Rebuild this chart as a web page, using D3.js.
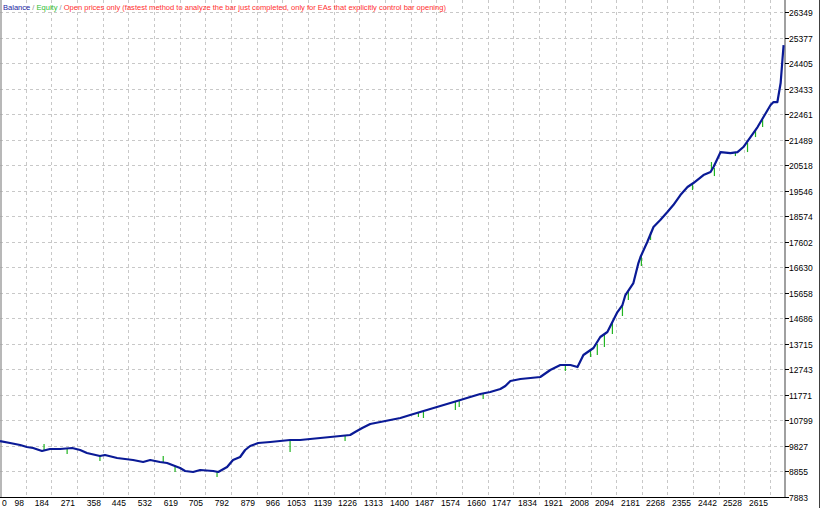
<!DOCTYPE html>
<html><head><meta charset="utf-8">
<script src="https://cdn.jsdelivr.net/npm/d3@7"></script>
<style>
body{margin:0;background:#fff}
svg{display:block}
text{font-family:"Liberation Sans",Arial,sans-serif}
</style>
</head><body>
<svg id="c" width="820" height="508"></svg>
<script>
const xTickLabels=[0,98,184,271,358,445,532,619,705,792,879,966,1053,1139,1226,1313,1400,1487,1574,1660,1747,1834,1921,2008,2094,2181,2268,2355,2442,2528,2615];
const yTickLabels=[26349,25377,24405,23433,22461,21489,20518,19546,18574,17602,16630,15658,14686,13715,12743,11771,10799,9827,8855,7883];
const titleParts=["Balance"," / ","Equity"," / ","Open prices only (fastest method to analyze the bar just completed, only for EAs that explicitly control bar opening)"];
const titleColors=["#1a1aa0","#909090","#30c030","#909090","#ff3030"];

const trades=[11,45,79,102,123,153,180,214,255,282,305,349,366,407,461,495,519,552,576,620,637,664,688,732,749,779,799,823,840,857,884,925,958,992,1026,1060,1094,1128,1162,1195,1212,1236,1263,1297,1331,1365,1398,1432,1466,1500,1534,1568,1601,1635,1669,1703,1720,1737,1771,1805,1838,1872,1906,1940,1964,1984,2018,2041,2065,2082,2099,2116,2126,2153,2170,2177,2200,2221,2244,2268,2288,2312,2336,2356,2390,2414,2424,2448,2481,2505,2525,2549,2573,2593,2617,2627,2640,2651,2657,2661];
const balance=[10015,9939,9863,9787,9748,9634,9710,9710,9748,9672,9558,9444,9482,9368,9292,9215,9292,9215,9177,8987,8873,8835,8911,8873,8835,9025,9292,9406,9672,9825,9939,9977,10015,10053,10053,10091,10129,10167,10205,10243,10358,10510,10662,10738,10814,10891,11005,11119,11233,11347,11462,11576,11690,11804,11880,11995,12109,12299,12375,12413,12451,12718,12908,12908,12832,13289,13555,13974,14165,14545,14926,15192,15573,16030,16791,17020,17591,18162,18428,18733,18999,19380,19685,19837,20142,20256,20446,21017,20979,21017,21208,21588,21969,22350,22806,22921,22921,23644,24520,25091];

const dipTrades=[160,238,349,563,603,745,992,1178,1426,1443,1551,1564,1645,1923,2008,2031,2055,2082,2116,2136,2180,2211,2353,2417,2427,2498,2539,2566,2590];
const dipFrom=[9634,9710,9444,9215,9063,8873,10053,10205,11081,11157,11538,11576,11842,12870,13479,13707,14088,14507,15192,15687,17058,17972,19799,20332,20408,20979,21360,21855,22236];
const dipTo=[9901,9520,9254,9444,8835,8644,9596,10015,10929,10891,11195,11309,11614,12680,13213,13289,13594,14088,14774,15383,16677,17667,19570,20636,20103,20865,21017,21588,21969];

const svg=d3.select("#c");
const plotRight=784, plotBottom=497;
const x=d3.scaleLinear().domain([11,2615]).range([0,770]);
const y=d3.scaleLinear().domain([7883,26349]).range([497,12]);

// grid
const g=svg.append("g");
yTickLabels.slice(0,-1).forEach(v=>{
  const yy=Math.round(y(v))+0.5;
  g.append("line").attr("x1",0).attr("x2",plotRight).attr("y1",yy).attr("y2",yy)
   .attr("stroke","#c8c8c8").attr("stroke-dasharray","3,3").attr("stroke-width",1);
});
xTickLabels.slice(1).forEach(v=>{
  const xx=Math.round(x(v))+0.5;
  g.append("line").attr("x1",xx).attr("x2",xx).attr("y1",0).attr("y2",plotBottom)
   .attr("stroke","#c8c8c8").attr("stroke-dasharray","3,3").attr("stroke-width",1);
});

// frame
svg.append("line").attr("x1",1).attr("x2",1).attr("y1",0).attr("y2",plotBottom).attr("stroke","#a0a0a0").attr("stroke-width",1.5);
svg.append("line").attr("x1",785).attr("x2",785).attr("y1",0).attr("y2",plotBottom).attr("stroke","#a0a0a0").attr("stroke-width",2);
svg.append("line").attr("x1",0).attr("x2",786).attr("y1",497.5).attr("y2",497.5).attr("stroke","#000").attr("stroke-width",1);
svg.append("line").attr("x1",819.5).attr("x2",819.5).attr("y1",0).attr("y2",508).attr("stroke","#404040").attr("stroke-width",1);

// y labels
yTickLabels.forEach(v=>{
  const yy=Math.round(y(v))+0.5;
  svg.append("line").attr("x1",785).attr("x2",789).attr("y1",yy).attr("y2",yy).attr("stroke","#000");
  svg.append("text").attr("x",789).attr("y",yy+3).attr("font-size",8.5).attr("fill","#000").text(v);
});
// x labels
xTickLabels.forEach((v,i)=>{
  const t=svg.append("text").attr("y",506).attr("font-size",8.5).attr("fill","#000").text(v);
  if(i===0) t.attr("x",2).attr("text-anchor","start");
  else t.attr("x",Math.round(x(v))-2).attr("text-anchor","end");
});

// equity dips
dipTrades.forEach((t,i)=>{
  svg.append("line").attr("x1",x(t)).attr("x2",x(t)).attr("y1",y(dipFrom[i])).attr("y2",y(dipTo[i]))
    .attr("stroke","#22b422").attr("stroke-width",1.2);
});

// balance line
const pts=trades.map((t,i)=>[t,balance[i]]);
svg.append("path").datum(pts)
  .attr("d",d3.line().x(d=>x(d[0])).y(d=>y(d[1])))
  .attr("fill","none").attr("stroke","#0a1a96").attr("stroke-width",2.2).attr("stroke-linejoin","round");

// title: separate text pieces, font size fitted to target width
const probe=svg.append("text").attr("font-size",10).text(titleParts.join(""));
const natural=probe.node().getComputedTextLength();
probe.remove();
const fs=10*444/natural;
let cx=3;
titleParts.forEach((p,i)=>{
  const t=svg.append("text").attr("x",cx).attr("y",10).attr("font-size",fs)
    .attr("fill",titleColors[i]).attr("xml:space","preserve").style("white-space","pre").text(p);
  cx+=t.node().getComputedTextLength();
});
</script>
</body></html>
